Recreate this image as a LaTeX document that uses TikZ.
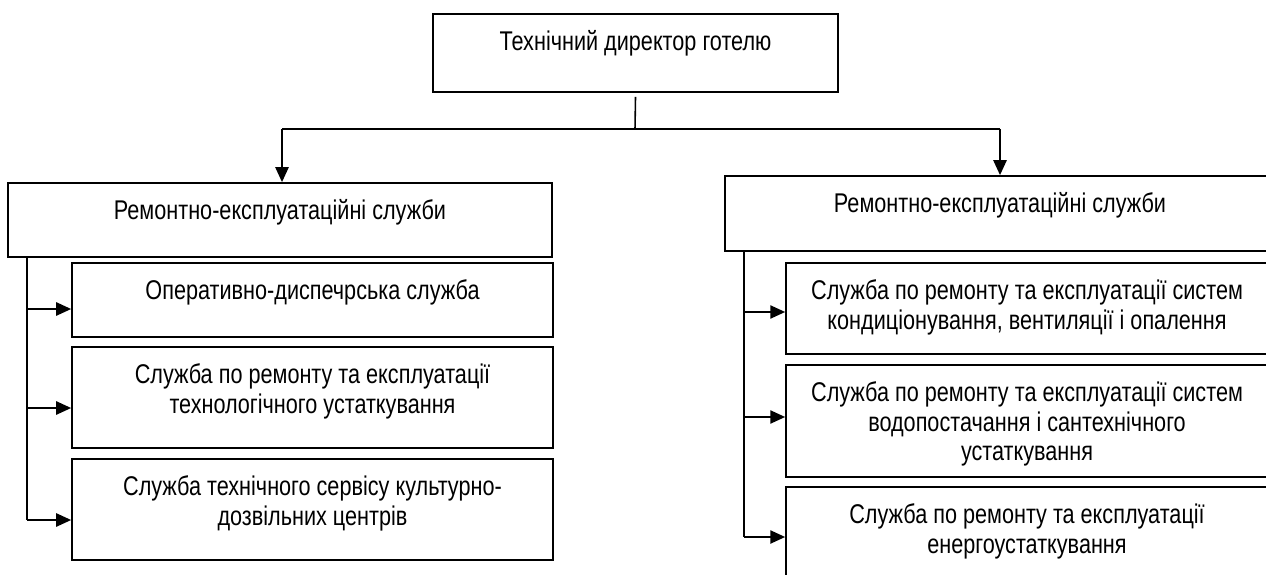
\documentclass[tikz,border=0pt]{standalone}
\usepackage{fontspec}
\setmainfont{Liberation Sans}[FakeStretch=0.8]
\usetikzlibrary{arrows.meta,positioning,calc}

\begin{document}
\begin{tikzpicture}[x=0.02cm, y=-0.02cm,
  >={Triangle[length=8.5pt,width=7.5pt]},
  box/.style={draw, line width=1pt, inner sep=0pt},
  txt/.style={align=center, inner sep=0pt, font=\fontsize{15.4}{16.6}\selectfont},
  link/.style={line width=0.9pt},
  arr/.style={->, line width=1.1pt}]
\useasboundingbox (0,0) rectangle (1266,574);
% head of the hotel's technical service
\node[box, minimum width=8.1cm, minimum height=1.56cm] (dir) at (635.5,53) {};
\node[txt, below=0.34cm of dir.north] (dirT) {\strut Технічний директор готелю};
% two branches
\node[box, minimum width=10.88cm, minimum height=1.48cm] (rsL) at (280,220) {};
\node[txt, below=0.34cm of rsL.north] (rsLT) {\strut Ремонтно-експлуатаційні служби};
\node[box, minimum width=11.3cm, minimum height=1.5cm] (rsR) at (1007.5,213.5) {};
\node[txt, below=0.34cm of rsR.north, xshift=-0.15cm] (rsRT) {\strut Ремонтно-експлуатаційні служби};
% left services
\node[box, minimum width=9.62cm, minimum height=1.48cm] (L1) at (312.5,300) {};
\node[txt, below=0.34cm of L1.north] (L1T) {\strut Оперативно-диспечрська служба};
\node[box, minimum width=9.62cm, minimum height=2.02cm] (L2) at (312.5,397.5) {};
\node[txt, below=0.34cm of L2.north] (L2T)
  {\strut Служба по ремонту та експлуатації\\технологічного устаткування};
\node[box, minimum width=9.62cm, minimum height=2.02cm] (L3) at (312.5,509.5) {};
\node[txt, below=0.34cm of L3.north] (L3T)
  {\strut Служба технічного сервісу культурно-\\дозвільних центрів};
% right services (cut by the page edge)
\node[box, minimum width=10.08cm, minimum height=1.82cm] (R1) at (1038,308.5) {};
\node[txt, below=0.34cm of R1.north, xshift=-0.22cm] (R1T)
  {\strut Служба по ремонту та експлуатації систем\\кондиціонування, вентиляції і опалення};
\node[box, minimum width=10.08cm, minimum height=2.24cm] (R2) at (1038,421) {};
\node[txt, below=0.34cm of R2.north, xshift=-0.22cm] (R2T)
  {\strut Служба по ремонту та експлуатації систем\\водопостачання і сантехнічного\\устаткування};
\node[box, minimum width=10.08cm, minimum height=2cm] (R3) at (1038,537) {};
\node[txt, below=0.34cm of R3.north, xshift=-0.22cm] (R3T)
  {\strut Служба по ремонту та експлуатації\\енергоустаткування};
% connectors from the top
\coordinate (hL) at (282,129);
\coordinate (hM) at (635,129);
\coordinate (hR) at (1000,129);
\draw[link] ($(dir.south)+(0,4)$) -- (hM);
\draw[link] (hL) -- (hR);
\draw[arr] (hL) -- (hL |- rsL.north);
\draw[arr] (hR) -- (hR |- rsR.north);
% left spine
\coordinate (sL) at (27,520);
\coordinate (aL1) at (27,309);
\coordinate (aL2) at (27,408);
\draw[link] (sL |- rsL.south) -- (sL);
\draw[arr] (aL1) -- (aL1 -| L1.west);
\draw[arr] (aL2) -- (aL2 -| L2.west);
\draw[arr] (sL) -- (sL -| L3.west);
% right spine
\coordinate (sR) at (744,537);
\coordinate (aR1) at (744,312);
\coordinate (aR2) at (744,417);
\draw[link] (sR |- rsR.south) -- (sR);
\draw[arr] (aR1) -- (aR1 -| R1.west);
\draw[arr] (aR2) -- (aR2 -| R2.west);
\draw[arr] (sR) -- (sR -| R3.west);
\end{tikzpicture}
\end{document}
